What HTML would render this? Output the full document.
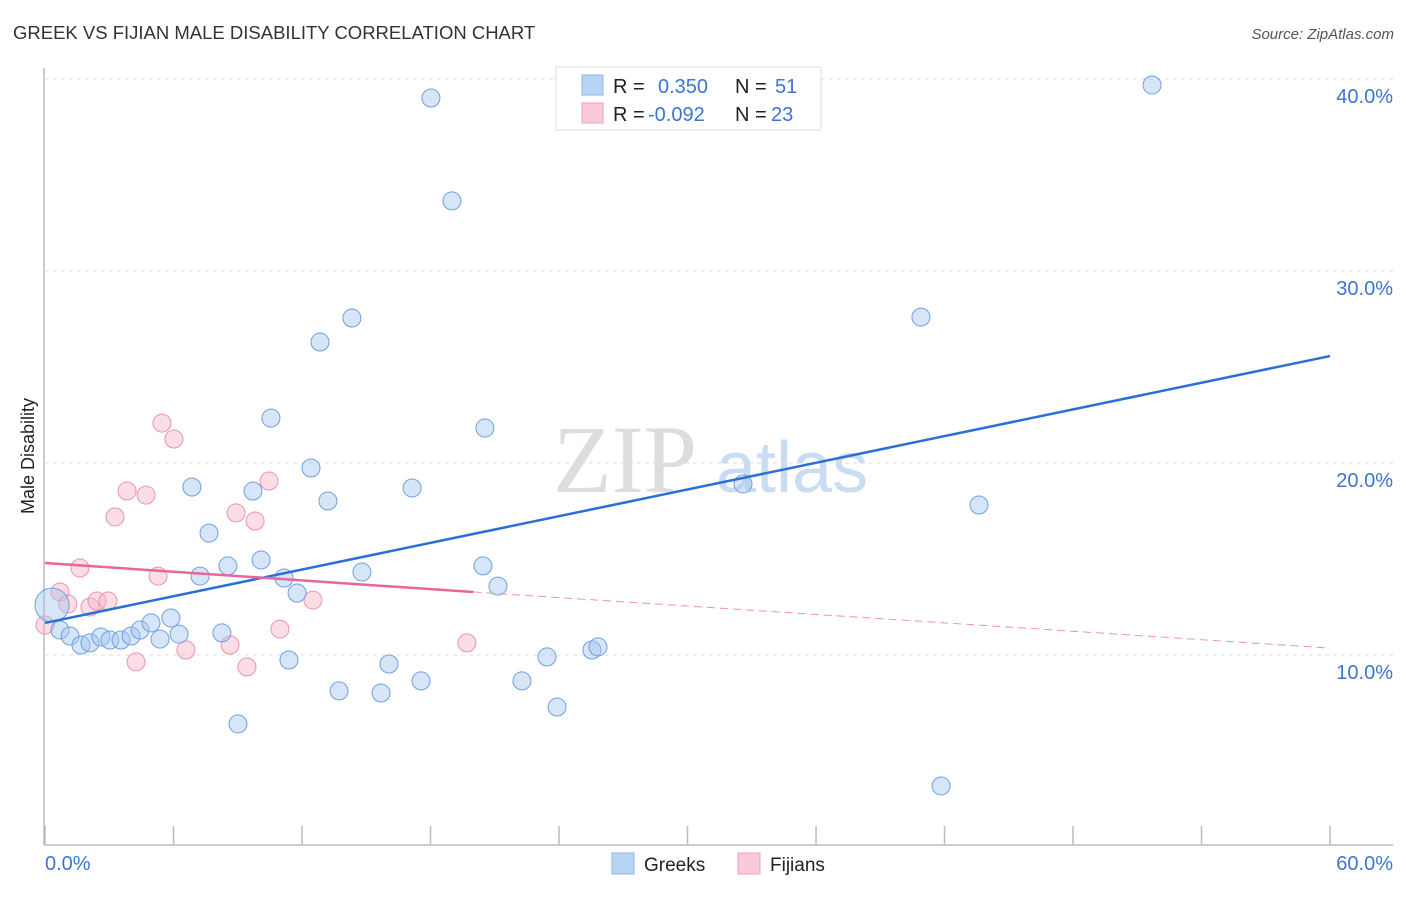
<!DOCTYPE html>
<html><head><meta charset="utf-8"><style>
body{margin:0;background:#fff;font-family:"Liberation Sans",sans-serif}
</style></head><body>
<svg id="chart" width="1406" height="892" viewBox="0 0 1406 892" xmlns="http://www.w3.org/2000/svg">
<text x="13" y="39" font-size="18.5" fill="#333">GREEK VS FIJIAN MALE DISABILITY CORRELATION CHART</text>
<text x="1394" y="39" font-size="15" fill="#555" text-anchor="end" font-style="italic">Source: ZipAtlas.com</text>
<g>
<text x="553" y="492" font-size="96" fill="#ddd" font-family="Liberation Serif,serif">ZIP</text>
<text x="716" y="492" font-size="72" fill="#c9dcf2">atlas</text>
</g>
<g id="grid"></g>
<g id="axes"></g>
<g id="marks"></g>
<g>
<rect x="556" y="67" width="265" height="63" fill="#fff" stroke="#ddd"/>
<rect x="582" y="75" width="21" height="20" fill="#b9d3f5" stroke="#8fb4e8"/>
<rect x="582" y="103" width="21" height="20" fill="#fcc9d8" stroke="#f0a0b8"/>
<text font-size="20" fill="#222"><tspan x="613" y="93">R = </tspan><tspan x="658" fill="#3d74d0">0.350</tspan><tspan x="735">N = </tspan><tspan x="775" fill="#3d74d0">51</tspan></text>
<text font-size="20" fill="#222"><tspan x="613" y="121">R = </tspan><tspan x="648" fill="#3d74d0">-0.092</tspan><tspan x="735">N = </tspan><tspan x="771" fill="#3d74d0">23</tspan></text>
</g>
<text transform="translate(34,456) rotate(-90)" font-size="18" fill="#222" text-anchor="middle">Male Disability</text>
<g>
<rect x="612" y="853" width="22" height="21" fill="#b9d3f5" stroke="#8fb4e8"/>
<text x="644" y="871" font-size="19" fill="#222">Greeks</text>
<rect x="738" y="853" width="22" height="21" fill="#fcc9d8" stroke="#f0a0b8"/>
<text x="770" y="871" font-size="19" fill="#222">Fijians</text>
</g>
</svg>
<script>
const greekX=[0.33,0.70,1.17,1.68,2.10,2.61,3.03,3.55,4.02,4.44,4.95,5.37,5.88,6.26,6.86,7.24,7.66,8.26,8.54,9.01,9.71,10.09,10.55,11.16,11.39,11.77,12.42,12.84,13.21,13.73,14.33,14.80,15.69,16.06,17.14,17.56,18.02,19.00,20.45,20.54,21.15,22.27,23.44,23.91,25.54,25.82,32.59,40.90,41.84,43.61,51.69];
const greekY=[12.60,11.30,10.99,10.52,10.63,10.94,10.78,10.78,10.99,11.30,11.67,10.83,11.93,11.09,18.75,14.11,16.35,11.15,14.64,6.41,18.54,14.95,22.34,14.01,9.74,13.23,19.74,26.30,18.02,8.13,27.55,14.32,8.02,9.53,18.70,8.65,39.01,33.65,14.64,21.82,13.59,8.65,9.90,7.29,10.26,10.42,18.91,27.60,3.18,17.81,39.69];
const fijiX=[0.0,0.70,1.07,1.63,2.10,2.43,2.94,3.27,3.83,4.25,4.72,5.28,5.46,6.02,6.58,8.64,8.92,9.43,9.81,10.46,10.97,12.51,19.70];
const fijiY=[11.56,13.28,12.66,14.53,12.50,12.81,12.81,17.19,18.54,9.64,18.33,14.11,22.08,21.25,10.26,10.52,17.40,9.38,16.98,19.06,11.35,12.86,10.63];
const greekTrendX=[0,60];
const greekTrendY=[11.67,25.57];
const fijiTrendX=[0,20,60];
const fijiTrendY=[14.79,13.28,10.36];
const yTicks=[10,20,30,40];
const xTickVals=[0,6,12,18,24,30,36,42,48,54,60];
const NS='http://www.w3.org/2000/svg';
const sx=v=>45+v*21.417;
const sy=v=>847-v*19.2;
function mk(tag,attrs,parent){const e=document.createElementNS(NS,tag);for(const k in attrs)e.setAttribute(k,attrs[k]);parent.appendChild(e);return e;}
const grid=document.getElementById('grid'),axes=document.getElementById('axes'),marks=document.getElementById('marks');
yTicks.forEach(t=>{
 const l=mk('line',{x1:45,x2:1393,y1:sy(t),y2:sy(t),stroke:'#ddd','stroke-dasharray':'4,4'},grid);
 
 
 const tx=mk('text',{x:1393,y:sy(t)+24,'font-size':20,fill:'#3d74d0','text-anchor':'end'},axes);
 tx.textContent=t.toFixed(1)+'%';
 
 
});
const ax=mk('line',{x1:44,x2:44,y1:68,y2:845,stroke:'#bbb','stroke-width':1.5},axes);


const bx=mk('line',{x1:44,x2:1393,y1:845,y2:845,stroke:'#bbb','stroke-width':1.5},axes);


xTickVals.forEach(t=>{
 const l=mk('line',{x1:sx(t),x2:sx(t),y1:826,y2:845,stroke:'#bbb','stroke-width':1.5},axes);
 
 
});
[[0,'start','0.0%'],[60,'end','60.0%']].forEach(([v,a,s])=>{
 const t=mk('text',{x:v===0?45:1393,y:870,'font-size':20,fill:'#3d74d0','text-anchor':a},axes);
 t.textContent=s;
 
 
});
fijiX.forEach((x,i)=>{
 const c=mk('circle',{cx:sx(x),cy:sy(fijiY[i]),r:9,fill:'rgba(247,180,200,0.45)',stroke:'#eb94ae','stroke-width':1},marks);
 
 
});
greekX.forEach((x,i)=>{
 const c=mk('circle',{cx:sx(x),cy:sy(greekY[i]),r:i===0?17:9,fill:'rgba(165,198,240,0.45)',stroke:'#6f9fe2','stroke-width':1},marks);
 
 
});
const gl=mk('line',{x1:sx(greekTrendX[0]),y1:sy(greekTrendY[0]),x2:sx(greekTrendX[1]),y2:sy(greekTrendY[1]),stroke:'#2a6fd6','stroke-width':2.5},marks);


const fl=mk('line',{x1:sx(fijiTrendX[0]),y1:sy(fijiTrendY[0]),x2:sx(fijiTrendX[1]),y2:sy(fijiTrendY[1]),stroke:'#e8679a','stroke-width':2.5},marks);


const fd=mk('line',{x1:sx(fijiTrendX[1]),y1:sy(fijiTrendY[1]),x2:sx(fijiTrendX[2]),y2:sy(fijiTrendY[2]),stroke:'#eb94ae','stroke-width':1,'stroke-dasharray':'8,5'},marks);


</script>
</body></html>
